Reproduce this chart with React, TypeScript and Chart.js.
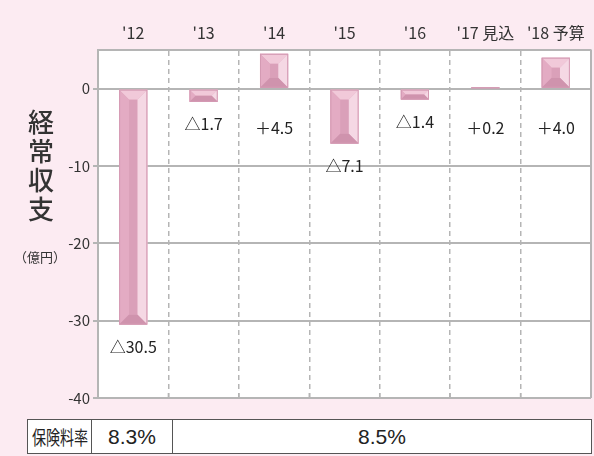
import React, { useEffect, useRef } from 'react';
import { Chart, registerables } from 'chart.js';

Chart.register(...registerables);

const categories = ["'12", "'13", "'14", "'15", "'16", "'17 見込", "'18 予算"];
const values = [-30.5, -1.7, 4.5, -7.1, -1.4, 0.2, 4.0];
const yTicks = [0, -10, -20, -30, -40];
const yTitleChars = ['経', '常', '収', '支'];
const yUnit = '（億円）';
const rateLabel = '保険料率';
const rateValues = ['8.3%', '8.5%'];

const FONT = '"Noto Sans CJK JP", "Noto Sans", sans-serif';
const BG = '#fcebf2';
const GRID = '#b5b5b5';

const fmt = (v: number) => (v < 0 ? '△' + Math.abs(v).toFixed(1) : '＋' + v.toFixed(1));

function poly(ctx: CanvasRenderingContext2D, pts: number[][], color: string) {
  ctx.beginPath();
  ctx.moveTo(pts[0][0], pts[0][1]);
  for (let i = 1; i < pts.length; i++) ctx.lineTo(pts[i][0], pts[i][1]);
  ctx.closePath();
  ctx.fillStyle = color;
  ctx.fill();
}

const decorPlugin = {
  id: 'decor',
  beforeDraw(chart: any) {
    const { ctx, chartArea: a } = chart;
    ctx.save();
    ctx.fillStyle = '#ffffff';
    ctx.fillRect(a.left, a.top, a.right - a.left, a.bottom - a.top);
    ctx.restore();
  },
  afterDatasetsDraw(chart: any) {
    const { ctx, chartArea: a } = chart;
    const meta = chart.getDatasetMeta(0);
    const yScale = chart.scales.y;
    const zeroY = yScale.getPixelForValue(0);
    ctx.save();
    meta.data.forEach((el: any, i: number) => {
      const { x, y, base, width } = el.getProps(['x', 'y', 'base', 'width'], true);
      const l = x - width / 2;
      const r = x + width / 2;
      const t = Math.min(y, base);
      const b = Math.max(y, base);
      const h = b - t;
      const d = Math.min(10, h / 2, width / 2);
      const il = l + d, ir = r - d, it = t + d, ib = b - d;
      poly(ctx, [[l, t], [r, t], [r, b], [l, b]], '#dda5bd');
      poly(ctx, [[l, t], [r, t], [ir, it], [il, it]], '#f1c9d9');
      poly(ctx, [[l, t], [il, it], [il, ib], [l, b]], '#e3abc3');
      poly(ctx, [[r, t], [ir, it], [ir, ib], [r, b]], '#f5d8e4');
      poly(ctx, [[l, b], [il, ib], [ir, ib], [r, b]], '#cf93ad');
      if (ir > il && ib > it) poly(ctx, [[il, it], [ir, it], [ir, ib], [il, ib]], '#daa0b9');
      ctx.strokeStyle = '#d49ab3';
      ctx.lineWidth = 1;
      ctx.strokeRect(l + 0.5, t + 0.5, width - 1, Math.max(h - 1, 0.5));

      const v = values[i];
      ctx.fillStyle = '#222';
      ctx.font = '16px ' + FONT;
      ctx.textAlign = 'center';
      ctx.textBaseline = 'middle';
      const ly = v < 0 ? b + 22 : zeroY + 39;
      ctx.fillText(fmt(v), x, ly);
    });
    // right border
    ctx.strokeStyle = GRID;
    ctx.lineWidth = 2;
    ctx.beginPath();
    ctx.moveTo(a.right, a.top);
    ctx.lineTo(a.right, a.bottom);
    ctx.stroke();
    // small ticks at bottom at category boundaries
    const xs = chart.scales.x;
    ctx.lineWidth = 1.5;
    for (let i = 1; i < categories.length; i++) {
      const px = (xs.getPixelForValue(i - 1) + xs.getPixelForValue(i)) / 2;
      ctx.beginPath();
      ctx.moveTo(px, a.bottom);
      ctx.lineTo(px, a.bottom - 5);
      ctx.stroke();
    }
    ctx.restore();
  },
};

export default function App() {
  const ref = useRef<HTMLCanvasElement | null>(null);

  useEffect(() => {
    if (!ref.current) return;
    const chart = new Chart(ref.current, {
      type: 'bar',
      data: {
        labels: categories,
        datasets: [
          {
            data: values,
            backgroundColor: '#daa0b9',
            borderWidth: 0,
            categoryPercentage: 1,
            barPercentage: 0.4,
          },
        ],
      },
      options: {
        responsive: false,
        animation: false,
        devicePixelRatio: 1,
        layout: { padding: { top: 0, left: 0, right: 3, bottom: 58 } },
        plugins: { legend: { display: false }, tooltip: { enabled: false } },
        scales: {
          x: {
            type: 'category',
            position: 'top',
            afterFit: (s: any) => {
              s.height = 50;
            },
            grid: {
              offset: true,
              drawTicks: false,
              lineWidth: 1.5,
              color: (c: any) =>
                c.index === 0 || c.index === categories.length ? 'rgba(0,0,0,0)' : GRID,
            },
            border: { display: true, color: GRID, width: 2, dash: [5, 4] },
            ticks: { color: '#333', font: { size: 16, family: FONT }, padding: 7 },
          },
          y: {
            min: -40,
            max: 5,
            afterFit: (s: any) => {
              s.width = 98;
            },
            afterBuildTicks: (s: any) => {
              s.ticks = yTicks.map((v) => ({ value: v }));
            },
            grid: { color: GRID, lineWidth: 2, tickLength: 5 },
            border: { display: true, color: GRID, width: 2 },
            ticks: {
              color: '#333',
              font: { size: 15, family: FONT },
              padding: 3,
              callback: (v: any) => String(v),
            },
          },
        },
      },
      plugins: [decorPlugin],
    });
    return () => chart.destroy();
  }, []);

  return (
    <div
      style={{
        position: 'absolute',
        left: 0,
        top: 0,
        width: 594,
        height: 456,
        background: BG,
        overflow: 'hidden',
        fontFamily: FONT,
      }}
    >
      <canvas ref={ref} width={594} height={456} style={{ position: 'absolute', left: 0, top: 0 }} />
      <div
        style={{
          position: 'absolute',
          left: 26,
          top: 106,
          width: 30,
          textAlign: 'center',
          fontSize: 26,
          lineHeight: '29px',
          fontWeight: 500,
          color: '#333',
        }}
      >
        {yTitleChars.map((c, i) => (
          <div key={i}>{c}</div>
        ))}
      </div>
      <div
        style={{
          position: 'absolute',
          left: 12,
          top: 247,
          width: 56,
          textAlign: 'center',
          fontSize: 13,
          lineHeight: '20px',
          color: '#333',
          whiteSpace: 'nowrap',
        }}
      >
        {yUnit}
      </div>
      <div
        style={{
          position: 'absolute',
          left: 27,
          top: 419,
          width: 565,
          height: 35,
          boxSizing: 'border-box',
          border: '1.5px solid #555',
          background: '#fff',
          display: 'flex',
          color: '#222',
        }}
      >
        <div
          style={{
            width: 63,
            borderRight: '1.5px solid #555',
            display: 'flex',
            alignItems: 'center',
            justifyContent: 'center',
            overflow: 'hidden',
          }}
        >
          <span
            style={{
              display: 'inline-block',
              fontSize: 19,
              whiteSpace: 'nowrap',
              transform: 'scaleX(0.74)',
            }}
          >
            {rateLabel}
          </span>
        </div>
        <div
          style={{
            width: 80,
            borderRight: '1.5px solid #555',
            display: 'flex',
            alignItems: 'center',
            justifyContent: 'center',
            fontSize: 21,
            fontFamily: '"Liberation Sans", Arial, sans-serif',
          }}
        >
          {rateValues[0]}
        </div>
        <div
          style={{
            flex: 1,
            display: 'flex',
            alignItems: 'center',
            justifyContent: 'center',
            fontSize: 21,
            fontFamily: '"Liberation Sans", Arial, sans-serif',
          }}
        >
          {rateValues[1]}
        </div>
      </div>
    </div>
  );
}
